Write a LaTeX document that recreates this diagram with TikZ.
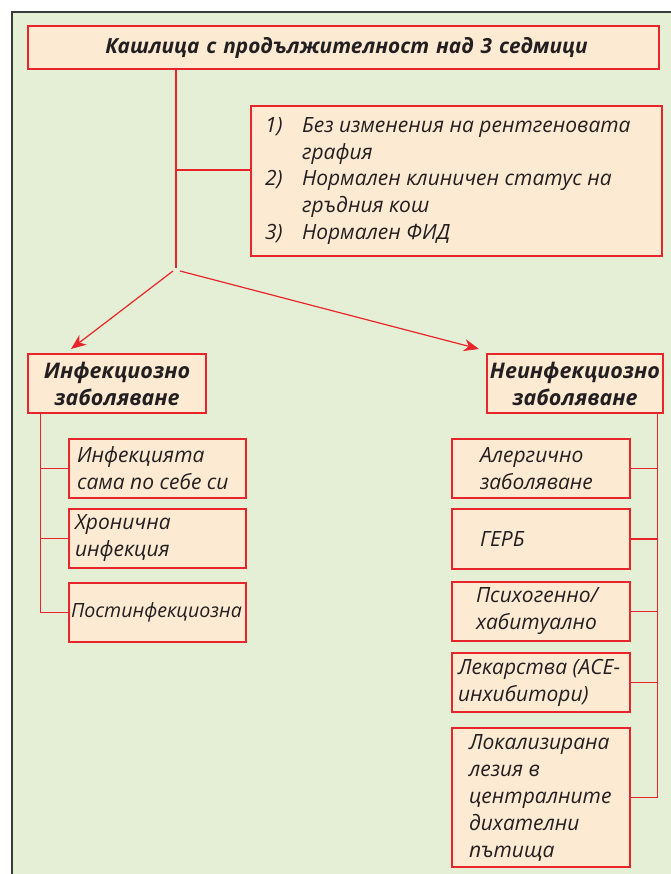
\documentclass[tikz,border=0pt]{standalone}
\usepackage{fontspec}
\setmainfont{Open Sans}[Script=Cyrillic, Language=Bulgarian]
\usetikzlibrary{arrows.meta,calc}
\definecolor{bggreen}{HTML}{E4EFD5}
\definecolor{peach}{HTML}{FDEAD3}
\definecolor{boxred}{HTML}{E8252B}
\definecolor{framegray}{HTML}{3A3A3A}
\definecolor{txt}{HTML}{231F20}
\newcommand{\padbox}[3]{\parbox{#1}{\raggedright\leftskip=#2\relax #3}}
\tikzset{
  x=1pt, y=-1pt,
  box/.style={draw=boxred, fill=peach, line width=1.4pt, inner xsep=0pt, inner ysep=0pt,
    text=txt},
  bodyfont/.style={font=\fontsize{21}{27}\selectfont\itshape},
  headfont/.style={font=\fontsize{21.5}{27}\selectfont\bfseries\itshape},
  conn/.style={draw=boxred, line width=1.2pt},
  arr/.style={conn, -{Stealth[length=15pt,width=12pt,inset=4.5pt]}}
}
\begin{document}
\begin{tikzpicture}
\useasboundingbox (0,0) rectangle (670,874);
\fill[white] (0,0) rectangle (670,874);
\filldraw[fill=bggreen, draw=framegray, line width=1.5pt] (12,12) rectangle (690,900);

% title
\node[box, font=\fontsize{20.8}{26}\selectfont\bfseries\itshape, align=center, text width=631pt, minimum height=43pt] (title) at (343.5,47.5)
  {\hspace*{6pt}Кашлица с продължителност над 3 седмици};

% criteria
\node[box, font=\fontsize{21}{26.7}\selectfont\itshape, minimum height=150pt] (crit) at (456.5,181)
  {\padbox{411pt}{14pt}{\makebox[37pt][l]{1)}Без изменения на рентгеновата\\
   \hspace*{37pt}графия\\
   \makebox[37pt][l]{2)}Нормален клиничен статус на\\
   \hspace*{37pt}гръдния кош\\
   \makebox[37pt][l]{3)}Нормален ФИД}};

% headers
\node[box, headfont, align=center, text width=178pt, minimum height=59pt] (inf) at (117,383.5)
  {Инфекциозно\\заболяване};
\node[box, headfont, align=center, text width=176pt, minimum height=59pt] (neinf) at (575,383.5)
  {Неинфекциозно\\заболяване};

% left children
\node[box, bodyfont, minimum height=59pt] (c1) at (157.5,468.5)
  {\padbox{177pt}{8pt}{Инфекцията\\сама по себе си}};
\node[box, bodyfont, minimum height=59pt] (c2) at (157.5,538.5)
  {\padbox{177pt}{6pt}{Хронична\\инфекция}};
\node[box, font=\fontsize{19.6}{27}\selectfont\itshape, minimum height=59pt] (c3) at (157.5,612.5)
  {\padbox{177pt}{2pt}{Постинфекциозна}};

% right children
\node[box, bodyfont, minimum height=59pt] (r1) at (541,468.5)
  {\padbox{178pt}{28pt}{Алергично\\заболяване}};
\node[box, bodyfont, minimum height=60pt] (r2) at (541,539)
  {\padbox{178pt}{28pt}{ГЕРБ}};
\node[box, bodyfont, minimum height=59pt] (r3) at (541,611.5)
  {\padbox{178pt}{24pt}{Психогенно/\\хабитуално}};
\node[box, bodyfont, minimum height=59pt] (r4) at (541,682.5)
  {\padbox{178pt}{6pt}{Лекарства (ACE-\\инхибитори)}};
\node[box, bodyfont, minimum height=139pt] (r5) at (541,797.5)
  {\padbox{178pt}{17pt}{Локализирана\\лезия в\\централните\\дихателни\\пътища}};

% connectors
\coordinate (j) at (176,268);
\coordinate (tipL) at (71,349);
\coordinate (tipR) at (479,349);
\coordinate (b1) at ($(crit.west)+(0,-11)$);
\draw[conn] (title.south -| j) -- (j);
\draw[conn] (b1 -| j) -- (b1);
\draw[arr] ($(j)+(-3,3)$) -- (tipL);
\draw[arr] ($(j)+(4,3)$) -- (tipR);

\coordinate (lv) at ($(inf.south west)+(13,0)$);
\draw[conn] (lv) |- (c3.west);
\draw[conn] (lv |- c1.west) -- (c1.west);
\draw[conn] (lv |- c2.west) -- (c2.west);

\coordinate (rv) at ($(neinf.south east)+(-6,0)$);
\draw[conn] (rv) |- (r5.east);
\draw[conn] (rv |- r1.east) -- (r1.east);
\draw[conn] (rv |- r2.east) -- (r2.east);
\draw[conn] (rv |- r3.east) -- (r3.east);
\draw[conn] (rv |- r4.east) -- (r4.east);
\end{tikzpicture}
\end{document}
